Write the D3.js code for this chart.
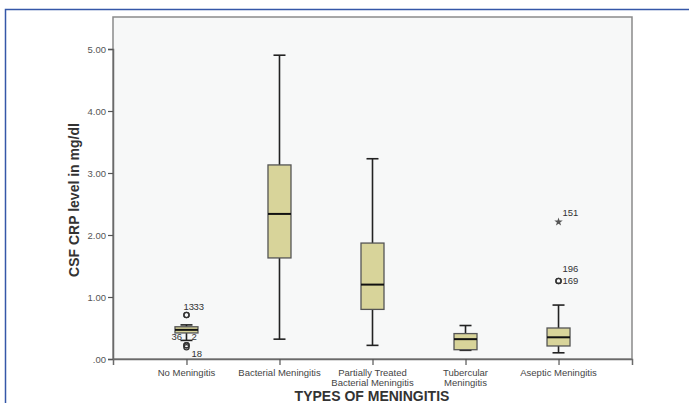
<!DOCTYPE html>
<html>
<head>
<meta charset="utf-8">
<script src="https://cdn.jsdelivr.net/npm/d3@7/dist/d3.min.js"></script>
<style>
  html, body { margin: 0; padding: 0; background: #ffffff; }
  svg { display: block; }
  text { font-family: "Liberation Sans", Arial, sans-serif; }
</style>
</head>
<body>
<svg id="chart" width="689" height="403"></svg>
<script>
// Groups and their axis labels (split over lines where long)
const categories = ["No Meningitis", "Bacterial Meningitis", "Partially Treated Bacterial Meningitis", "Tubercular Meningitis", "Aseptic Meningitis"];
const categoryLabels = [["No Meningitis"], ["Bacterial Meningitis"], ["Partially Treated", "Bacterial Meningitis"], ["Tubercular", "Meningitis"], ["Aseptic Meningitis"]];

// Five-number summaries (CSF CRP, mg/dl)
const whiskerLow  = [0.30, 0.32, 0.22, 0.14, 0.10];
const q1          = [0.42, 1.63, 0.80, 0.15, 0.21];
const median      = [0.47, 2.34, 1.20, 0.32, 0.35];
const q3          = [0.52, 3.13, 1.87, 0.41, 0.50];
const whiskerHigh = [0.55, 4.90, 3.23, 0.54, 0.87];

// Outlying cases: group index, value, case label, marker, label offset
const outlierGroup = [0, 0, 0, 0, 0, 4, 4, 4];
const outlierValue = [0.71, 0.71, 0.22, 0.22, 0.19, 1.26, 1.26, 2.21];
const outlierLabel = ["13", "33", "36", "2", "18", "169", "196", "151"];
const outlierShape = ["circle", "circle", "circle", "circle", "circle", "circle", "circle", "star"];
const labelDx = [-3, 7, -15, 5, 5, 4, 4, 4];
const labelDy = [-5, -5, -5, -5, 10, 3, -9, -6];

const yTicks = [0, 1, 2, 3, 4, 5];

const svg = d3.select("#chart");

// Outer blue frame
svg.append("path")
  .attr("d", "M5.5,403 L5.5,9.5 L689,9.5")
  .attr("fill", "none")
  .attr("stroke", "#3557a8")
  .attr("stroke-width", 1.5);

const plot = { left: 113, right: 632, top: 17, bottom: 359 };

const y = d3.scaleLinear().domain([0, 5]).range([359, 49]);
const x = d3.scalePoint().domain(categories).range([plot.left, plot.right]).padding(0.79);

// Plot area
svg.append("rect")
  .attr("x", plot.left).attr("y", plot.top)
  .attr("width", plot.right - plot.left).attr("height", plot.bottom - plot.top)
  .attr("fill", "#f7f8f8")
  .attr("stroke", "#8a8a8a")
  .attr("stroke-width", 1.5);

// Y axis
const yAxis = svg.append("g")
  .attr("transform", `translate(${plot.left},0)`)
  .call(d3.axisLeft(y).tickValues(yTicks).tickSize(5)
    .tickFormat(d => d3.format(".2f")(d).replace(/^0/, "")));
yAxis.select(".domain").attr("stroke", "#6a6a6a").attr("stroke-width", 1.5);
yAxis.selectAll(".tick line").attr("stroke", "#555").attr("stroke-width", 1.2);
yAxis.selectAll(".tick text").attr("fill", "#555").attr("font-size", 9.5)
  .attr("font-family", "Liberation Sans, Arial, sans-serif").attr("dx", 1);

// X axis
const xAxis = svg.append("g")
  .attr("transform", `translate(0,${plot.bottom})`)
  .call(d3.axisBottom(x).tickSize(6).tickFormat(""));
xAxis.select(".domain").attr("stroke", "#6a6a6a").attr("stroke-width", 1.5);
xAxis.selectAll(".tick line").attr("stroke", "#555").attr("stroke-width", 1.2);

categories.forEach((c, i) => {
  const t = svg.append("text")
    .attr("x", x(c)).attr("y", 376)
    .attr("text-anchor", "middle")
    .attr("font-size", 9.5).attr("fill", "#444");
  categoryLabels[i].forEach((line, k) => {
    t.append("tspan").attr("x", x(c)).attr("dy", k === 0 ? 0 : 9.5).text(line);
  });
});

// Axis titles
svg.append("text")
  .attr("transform", `translate(79,${(y(0) + y(5)) / 2 - 4}) rotate(-90)`)
  .attr("text-anchor", "middle")
  .attr("font-size", 14).attr("font-weight", "bold").attr("fill", "#333")
  .text("CSF CRP level in mg/dl");

svg.append("text")
  .attr("x", 372).attr("y", 401)
  .attr("text-anchor", "middle")
  .attr("font-size", 14).attr("font-weight", "bold").attr("fill", "#333")
  .text("TYPES OF MENINGITIS");

// Boxes and whiskers
const boxW = 23, capW = 12;
const g = svg.append("g");
categories.forEach((c, i) => {
  const cx = x(c);
  g.append("line")
    .attr("x1", cx).attr("x2", cx).attr("y1", y(whiskerHigh[i])).attr("y2", y(q3[i]))
    .attr("stroke", "#222").attr("stroke-width", 1.6);
  g.append("line")
    .attr("x1", cx).attr("x2", cx).attr("y1", y(q1[i])).attr("y2", y(whiskerLow[i]))
    .attr("stroke", "#222").attr("stroke-width", 1.6);
  [whiskerHigh[i], whiskerLow[i]].forEach(v => {
    g.append("line")
      .attr("x1", cx - capW / 2).attr("x2", cx + capW / 2).attr("y1", y(v)).attr("y2", y(v))
      .attr("stroke", "#222").attr("stroke-width", 1.6);
  });
  g.append("rect")
    .attr("x", cx - boxW / 2).attr("y", y(q3[i]))
    .attr("width", boxW).attr("height", y(q1[i]) - y(q3[i]))
    .attr("fill", "#d8d49a").attr("stroke", "#555").attr("stroke-width", 1.3);
  g.append("line")
    .attr("x1", cx - boxW / 2).attr("x2", cx + boxW / 2).attr("y1", y(median[i])).attr("y2", y(median[i]))
    .attr("stroke", "#111").attr("stroke-width", 2);
});

// Outliers with case numbers
outlierValue.forEach((v, j) => {
  const cx = x(categories[outlierGroup[j]]);
  const cy = y(v);
  if (outlierShape[j] === "star") {
    g.append("path")
      .attr("d", d3.symbol(d3.symbolStar, 22)())
      .attr("transform", `translate(${cx},${cy})`)
      .attr("fill", "#555");
  } else {
    g.append("circle")
      .attr("cx", cx).attr("cy", cy).attr("r", 2.6)
      .attr("fill", "none").attr("stroke", "#333").attr("stroke-width", 1.3);
  }
  g.append("text")
    .attr("x", cx + labelDx[j]).attr("y", cy + labelDy[j])
    .attr("font-size", 9.5).attr("fill", "#333")
    .text(outlierLabel[j]);
});
</script>
</body>
</html>
